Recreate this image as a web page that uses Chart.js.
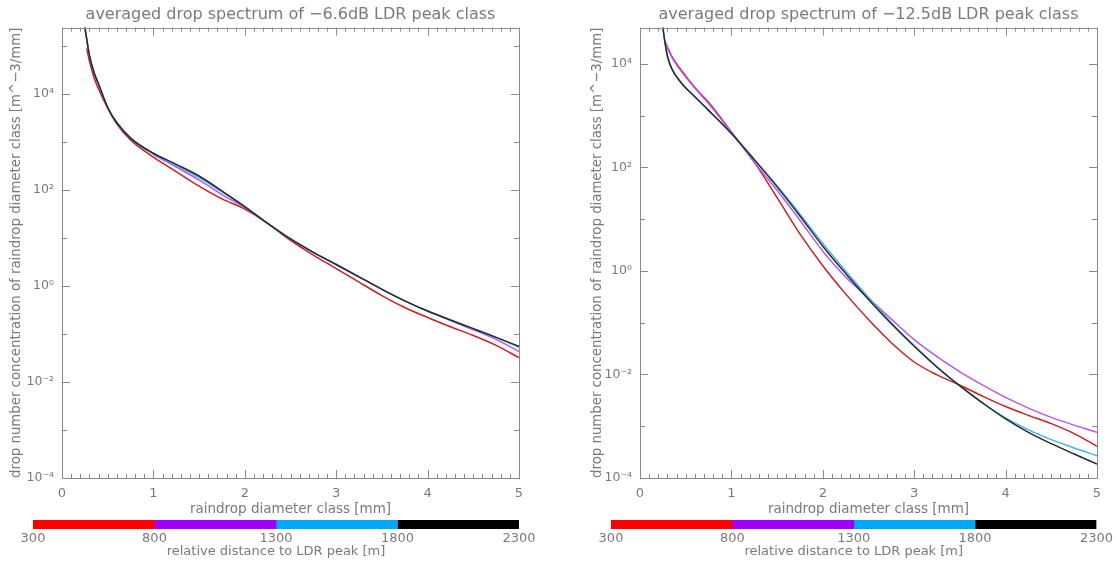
<!DOCTYPE html>
<html>
<head>
<meta charset="utf-8">
<script src="https://cdn.jsdelivr.net/npm/chart.js@4.4.1/dist/chart.umd.min.js"></script>
<style>
  body { margin: 0; background: #fff; width: 1115px; height: 561px; position: relative; overflow: hidden; }
  canvas { position: absolute; }
</style>
</head>
<body>
<canvas id="spec66" width="558" height="516" style="left:0;top:0"></canvas>
<canvas id="spec125" width="557" height="516" style="left:558px;top:0"></canvas>
<canvas id="bar66" width="558" height="49" style="left:0;top:512px"></canvas>
<canvas id="bar125" width="557" height="49" style="left:558px;top:512px"></canvas>
<script>
/* raindrop diameter classes [mm] */
const diameters66 = [0.24, 0.27, 0.3, 0.35, 0.4, 0.5, 0.6, 0.75, 1, 1.25, 1.5, 1.75, 2, 2.25, 2.5, 2.75, 3, 3.25, 3.5, 3.75, 4, 4.25, 4.5, 4.75, 5];
const diameters125 = [0.24, 0.27, 0.3, 0.35, 0.45, 0.6, 0.75, 1, 1.25, 1.5, 1.75, 2, 2.25, 2.5, 2.75, 3, 3.25, 3.5, 3.75, 4, 4.25, 4.5, 4.75, 5];

/* -6.6dB class, one spectrum per distance bin [m^-3/mm] */
const red66 = [null, 8.9e4, 4.8e4, 2.2e4, 1.26e4, 5.0e3, 2.35e3, 1.1e3, 480, 240, 120, 65, 40, 20, 8.9, 4.4, 2.3, 1.2, 0.63, 0.355, 0.22, 0.141, 0.093, 0.058, 0.032];
const purple66 = [3.2e5, 1.4e5, 6.3e4, 2.8e4, 1.6e4, 5.2e3, 2.5e3, 1.2e3, 550, 300, 160, 80, 43, 20, 9.5, 5.0, 2.8, 1.55, 0.85, 0.49, 0.30, 0.19, 0.122, 0.077, 0.043];
const cyan66 = [3.2e5, 1.4e5, 6.3e4, 2.8e4, 1.6e4, 5.2e3, 2.5e3, 1.2e3, 570, 320, 180, 91, 45, 20, 9.5, 5.0, 2.8, 1.55, 0.85, 0.49, 0.30, 0.195, 0.129, 0.085, 0.053];
const black66 = [3.2e5, 1.4e5, 6.3e4, 2.8e4, 1.6e4, 5.2e3, 2.5e3, 1.2e3, 580, 340, 195, 95, 45, 20, 9.5, 5.0, 2.8, 1.55, 0.85, 0.49, 0.30, 0.195, 0.129, 0.085, 0.055];

/* -12.5dB class */
const red125 = [null, 2.8e4, 2.1e4, 1.38e4, 7.6e3, 3.5e3, 1.8e3, 480, 126, 26, 5.2, 1.26, 0.36, 0.115, 0.041, 0.0174, 0.0098, 0.0062, 0.0038, 0.0024, 0.00162, 0.00112, 7.2e-4, 4.1e-4];
const purple125 = [null, 2.8e4, 2.0e4, 1.32e4, 7.2e3, 3.4e3, 1.7e3, 470, 126, 36, 9.5, 2.4, 0.76, 0.30, 0.117, 0.047, 0.022, 0.0112, 0.0062, 0.0036, 0.00224, 0.00148, 0.00105, 7.6e-4];
const cyan125 = [7.1e4, 2.8e4, 1.4e4, 7.9e3, 4.3e3, 2.3e3, 1.26e3, 450, 141, 44, 12.5, 3.4, 1.0, 0.31, 0.1, 0.036, 0.014, 0.006, 0.0028, 0.00145, 8.5e-4, 5.5e-4, 3.8e-4, 2.7e-4];
const black125 = [7.1e4, 2.8e4, 1.4e4, 7.9e3, 4.3e3, 2.3e3, 1.26e3, 450, 141, 42, 11.5, 3.0, 0.89, 0.28, 0.095, 0.035, 0.0138, 0.006, 0.0028, 0.00138, 7.6e-4, 4.6e-4, 2.9e-4, 1.86e-4];

/* colour bar: relative distance to LDR peak [m] */
const distanceEdges = [300, 800, 1300, 1800, 2300];
const distanceColors = ["#ff0000", "#a000f8", "#00a8f8", "#000000"];
const lineColors = ["#cc2020", "#b858f0", "#40b4f0", "#2a2a2a"];

const yTickValues = [1e-4, 1e-2, 1, 1e2, 1e4];

const FONT = "'DejaVu Sans', sans-serif";
const TEXT = "#7a7a7a";
const FRAME = "#8a8a8a";

document.addEventListener("DOMContentLoaded", () => {
  createSpectrumChart("spec66", "averaged drop spectrum of \u22126.6dB LDR peak class",
    diameters66, [red66, purple66, cyan66, black66], 2.4e5, { yWidth: 62, yTitlePad: 9, right: 39 });
  createSpectrumChart("spec125", "averaged drop spectrum of \u221212.5dB LDR peak class",
    diameters125, [red125, purple125, cyan125, black125], 5.0e4, { yWidth: 82, yTitlePad: 32, right: 18 });
  createColorbar("bar66", 33, 39);
  createColorbar("bar125", 53, 18);
});

const superDigits = { "-": "\u207b", "0": "\u2070", "1": "\u00b9", "2": "\u00b2", "3": "\u00b3", "4": "\u2074", "5": "\u2075" };
function powerLabel(value) {
  const exp = String(Math.round(Math.log10(value)));
  return "10" + exp.split("").map((c) => superDigits[c]).join("");
}

/* frame on all four sides with inward ticks */
const frameTicks = {
  id: "frameTicks",
  afterDraw(chart) {
    const { ctx, chartArea: a, scales: { x, y } } = chart;
    ctx.save();
    ctx.strokeStyle = FRAME;
    ctx.lineWidth = 1;
    ctx.strokeRect(Math.round(a.left) + 0.5, Math.round(a.top) + 0.5, Math.round(a.width), Math.round(a.height));
    ctx.beginPath();
    for (let i = 0; i <= 50; i++) {
      const px = Math.round(x.getPixelForValue(i / 10)) + 0.5;
      const len = i % 10 === 0 ? 8 : 4;
      ctx.moveTo(px, a.bottom); ctx.lineTo(px, a.bottom - len);
      ctx.moveTo(px, a.top); ctx.lineTo(px, a.top + len);
    }
    for (let e = -4; 10 ** e <= y.max; e++) {
      const py = Math.round(y.getPixelForValue(10 ** e)) + 0.5;
      const len = e % 2 === 0 ? 8 : 5;
      ctx.moveTo(a.left, py); ctx.lineTo(a.left + len, py);
      ctx.moveTo(a.right, py); ctx.lineTo(a.right - len, py);
    }
    ctx.stroke();
    ctx.restore();
  },
};

function createSpectrumChart(id, title, diameters, series, yMax, box) {
  new Chart(document.getElementById(id), {
    type: "line",
    data: {
      datasets: series.map((values, i) => ({
        data: diameters.map((d, k) => ({ x: d, y: values[k] })),
        borderColor: lineColors[i],
        borderWidth: 1.5,
        pointRadius: 0,
        cubicInterpolationMode: "monotone",
        order: series.length - 1 - i, // farthest bin (black) ends up on top
      })),
    },
    options: {
      responsive: false,
      animation: false,
      layout: { padding: { left: 0, right: box.right, top: 0, bottom: 0 } },
      plugins: {
        legend: { display: false },
        tooltip: { enabled: false },
        title: {
          display: true,
          text: title,
          fullSize: false,
          color: TEXT,
          font: { family: FONT, size: 16, weight: "normal", lineHeight: 1.1 },
          padding: { top: 6, bottom: 4 },
        },
      },
      scales: {
        x: {
          type: "linear",
          min: 0,
          max: 5,
          grid: { display: false, drawTicks: false },
          border: { display: false },
          ticks: { stepSize: 1, color: TEXT, font: { family: FONT, size: 13 }, padding: 8, maxRotation: 0 },
          title: {
            display: true,
            text: "raindrop diameter class [mm]",
            color: TEXT,
            font: { family: FONT, size: 13.5, lineHeight: 1 },
            padding: { top: 0, bottom: 0 },
          },
          afterFit: (s) => { s.height = 38; },
        },
        y: {
          type: "logarithmic",
          min: 1e-4,
          max: yMax,
          grid: { display: false, drawTicks: false },
          border: { display: false },
          afterBuildTicks: (s) => { s.ticks = yTickValues.map((v) => ({ value: v })); },
          ticks: { callback: powerLabel, color: TEXT, font: { family: FONT, size: 12.5 }, padding: 8 },
          title: {
            display: true,
            text: "drop number concentration of raindrop diameter class [m^\u22123/mm]",
            color: TEXT,
            font: { family: FONT, size: 13.3, lineHeight: 1.2 },
            padding: { top: box.yTitlePad, bottom: 0 },
          },
          afterFit: (s) => { s.width = box.yWidth; },
        },
      },
    },
    plugins: [frameTicks],
  });
}

function createColorbar(id, padLeft, padRight) {
  new Chart(document.getElementById(id), {
    type: "bar",
    data: {
      labels: [""],
      datasets: distanceColors.map((c, i) => ({
        data: [[distanceEdges[i], distanceEdges[i + 1]]],
        backgroundColor: c,
        borderWidth: 0,
        barPercentage: 1,
        categoryPercentage: 1,
        grouped: false,
      })),
    },
    options: {
      indexAxis: "y",
      responsive: false,
      animation: false,
      layout: { padding: { left: padLeft, right: padRight, top: 8, bottom: 0 } },
      plugins: { legend: { display: false }, tooltip: { enabled: false } },
      scales: {
        x: {
          type: "linear",
          min: 300,
          max: 2300,
          grid: { display: false, drawTicks: false },
          border: { display: false },
          afterBuildTicks: (s) => { s.ticks = distanceEdges.map((v) => ({ value: v })); },
          ticks: { callback: (v) => String(v), color: TEXT, font: { family: FONT, size: 13 }, padding: 2, maxRotation: 0, autoSkip: false },
          title: {
            display: true,
            text: "relative distance to LDR peak [m]",
            color: TEXT,
            font: { family: FONT, size: 13, lineHeight: 1 },
            padding: { top: 0, bottom: 3 },
          },
          afterFit: (s) => { s.height = 32; },
        },
        y: { display: false },
      },
    },
  });
}
</script>
</body>
</html>
